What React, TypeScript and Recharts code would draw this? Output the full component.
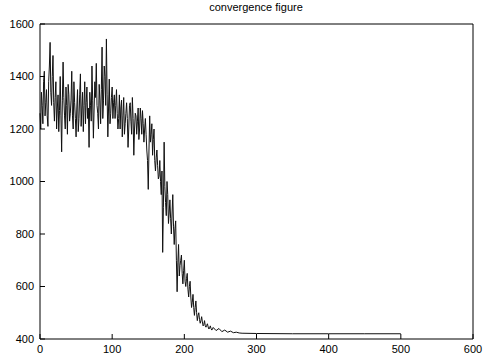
import { LineChart, Line, XAxis, YAxis } from "recharts";

// iteration numbers (dense while the search is still noisy, sparse on the flat tail)
const iterations = [
  0, 1, 2, 3, 4, 5, 6, 7, 8, 9, 10, 11, 12, 13, 14, 15, 16, 17, 18, 19,
  20, 21, 22, 23, 24, 25, 26, 27, 28, 29, 30, 31, 32, 33, 34, 35, 36, 37, 38, 39,
  40, 41, 42, 43, 44, 45, 46, 47, 48, 49, 50, 51, 52, 53, 54, 55, 56, 57, 58, 59,
  60, 61, 62, 63, 64, 65, 66, 67, 68, 69, 70, 71, 72, 73, 74, 75, 76, 77, 78, 79,
  80, 81, 82, 83, 84, 85, 86, 87, 88, 89, 90, 91, 92, 93, 94, 95, 96, 97, 98, 99,
  100, 101, 102, 103, 104, 105, 106, 107, 108, 109, 110, 111, 112, 113, 114, 115, 116, 117, 118, 119,
  120, 121, 122, 123, 124, 125, 126, 127, 128, 129, 130, 131, 132, 133, 134, 135, 136, 137, 138, 139,
  140, 141, 142, 143, 144, 145, 146, 147, 148, 149, 150, 151, 152, 153, 154, 155, 156, 157, 158, 159,
  160, 161, 162, 163, 164, 165, 166, 167, 168, 169, 170, 171, 172, 173, 174, 175, 176, 177, 178, 179,
  180, 181, 182, 183, 184, 185, 186, 187, 188, 189, 190, 191, 192, 193, 194, 195, 196, 197, 198, 199,
  200, 201, 202, 203, 204, 205, 206, 207, 208, 209, 210, 211, 212, 213, 214, 215, 216, 217, 218, 219,
  220, 221, 222, 223, 224, 225, 226, 227, 228, 229, 230, 231, 232, 233, 234, 235, 236, 237, 238, 239,
  240, 244, 248, 252, 256, 260, 264, 268, 272, 276, 280, 300, 350, 400, 450, 500,
];

const fitness = [
  1260, 1200, 1340, 1290, 1220, 1380, 1420, 1250, 1300, 1350, 1250, 1210, 1380, 1440, 1530, 1340, 1290, 1400, 1480, 1300,
  1230, 1320, 1380, 1200, 1280, 1330, 1190, 1270, 1400, 1250, 1113, 1310, 1455, 1320, 1250, 1200, 1360, 1290, 1180, 1370,
  1330, 1230, 1260, 1310, 1420, 1250, 1200, 1380, 1300, 1240, 1170, 1280, 1350, 1190, 1240, 1330, 1410, 1210, 1280, 1340,
  1190, 1290, 1380, 1220, 1300, 1360, 1240, 1280, 1130, 1340, 1290, 1230, 1440, 1310, 1165, 1280, 1380, 1320, 1450, 1290,
  1260, 1200, 1370, 1310, 1220, 1350, 1512, 1240, 1310, 1440, 1400, 1290, 1543, 1330, 1170, 1280, 1390, 1220, 1260, 1320,
  1360, 1240, 1300, 1330, 1240, 1290, 1350, 1260, 1200, 1240, 1330, 1200, 1280, 1310, 1170, 1250, 1320, 1180, 1220, 1260,
  1300, 1240, 1130, 1200, 1290, 1300, 1230, 1180, 1320, 1240, 1100, 1200, 1260, 1250, 1180, 1230, 1280, 1160, 1200, 1280,
  1240, 1180, 1270, 1220, 1150, 1200, 1240, 1180, 1120, 1080, 970, 1120, 1250, 1150, 1180, 1220, 1100, 1160, 1200, 1080,
  1040, 1090, 1120, 1060, 1010, 1020, 1080, 1000, 950, 1040, 730, 900, 1150, 980, 920, 870, 1000, 950, 840, 880,
  930, 860, 800, 880, 950, 830, 760, 820, 850, 700, 580, 690, 760, 640, 680, 700, 720, 650, 610, 660,
  700, 620, 600, 630, 650, 590, 560, 600, 620, 560, 520, 540, 570, 520, 490, 520, 545, 500, 470, 490,
  500, 475, 460, 470, 485, 465, 450, 455, 470, 450, 445, 452, 458, 446, 438, 442, 450, 440, 434, 438,
  444, 432, 440, 428, 434, 426, 430, 424, 426, 423, 422, 421, 420, 420, 420, 420,
];

const xTicks = [0, 100, 200, 300, 400, 500, 600];
const yTicks = [400, 600, 800, 1000, 1200, 1400, 1600];

const data = iterations.map((x, i) => ({ x, y: fitness[i] }));

const font = { fill: "#000", fontSize: 11, fontFamily: "Liberation Sans, Arial, sans-serif" };
const black = { stroke: "#000" };

export default function App() {
  return (
    <div style={{ position: "absolute", left: 0, top: 0, width: 484, height: 360, background: "#fff" }}>
      <div
        style={{
          position: "absolute",
          left: 0,
          top: 1,
          width: 512,
          textAlign: "center",
          fontSize: 11,
          fontFamily: "Liberation Sans, Arial, sans-serif",
          color: "#000",
        }}
      >
        convergence figure
      </div>
      <LineChart width={484} height={360} data={data} margin={{ top: 23, right: 10, bottom: 0, left: 0 }}>
        <XAxis
          dataKey="x"
          type="number"
          domain={[0, 600]}
          ticks={xTicks}
          interval={0}
          height={21}
          tickSize={-5}
          tickMargin={11}
          tick={font}
          axisLine={black}
          tickLine={black}
        />
        <XAxis
          xAxisId="top"
          orientation="top"
          dataKey="x"
          type="number"
          domain={[0, 600]}
          ticks={xTicks}
          interval={0}
          height={1}
          tickSize={-5}
          tickMargin={0}
          tick={false}
          axisLine={black}
          tickLine={black}
        />
        <YAxis
          type="number"
          domain={[400, 1600]}
          ticks={yTicks}
          interval={0}
          width={40}
          tickSize={-5}
          tickMargin={11}
          tick={font}
          axisLine={black}
          tickLine={black}
        />
        <YAxis
          yAxisId="right"
          orientation="right"
          type="number"
          domain={[400, 1600]}
          ticks={yTicks}
          interval={0}
          width={1}
          tickSize={-5}
          tickMargin={0}
          tick={false}
          axisLine={black}
          tickLine={black}
        />
        {/* invisible copy so the top/right box axes get drawn */}
        <Line
          xAxisId="top"
          yAxisId="right"
          dataKey="y"
          stroke="none"
          dot={false}
          activeDot={false}
          isAnimationActive={false}
        />
        <Line
          dataKey="y"
          type="linear"
          stroke="#111"
          strokeWidth={1}
          dot={false}
          isAnimationActive={false}
        />
      </LineChart>
    </div>
  );
}
